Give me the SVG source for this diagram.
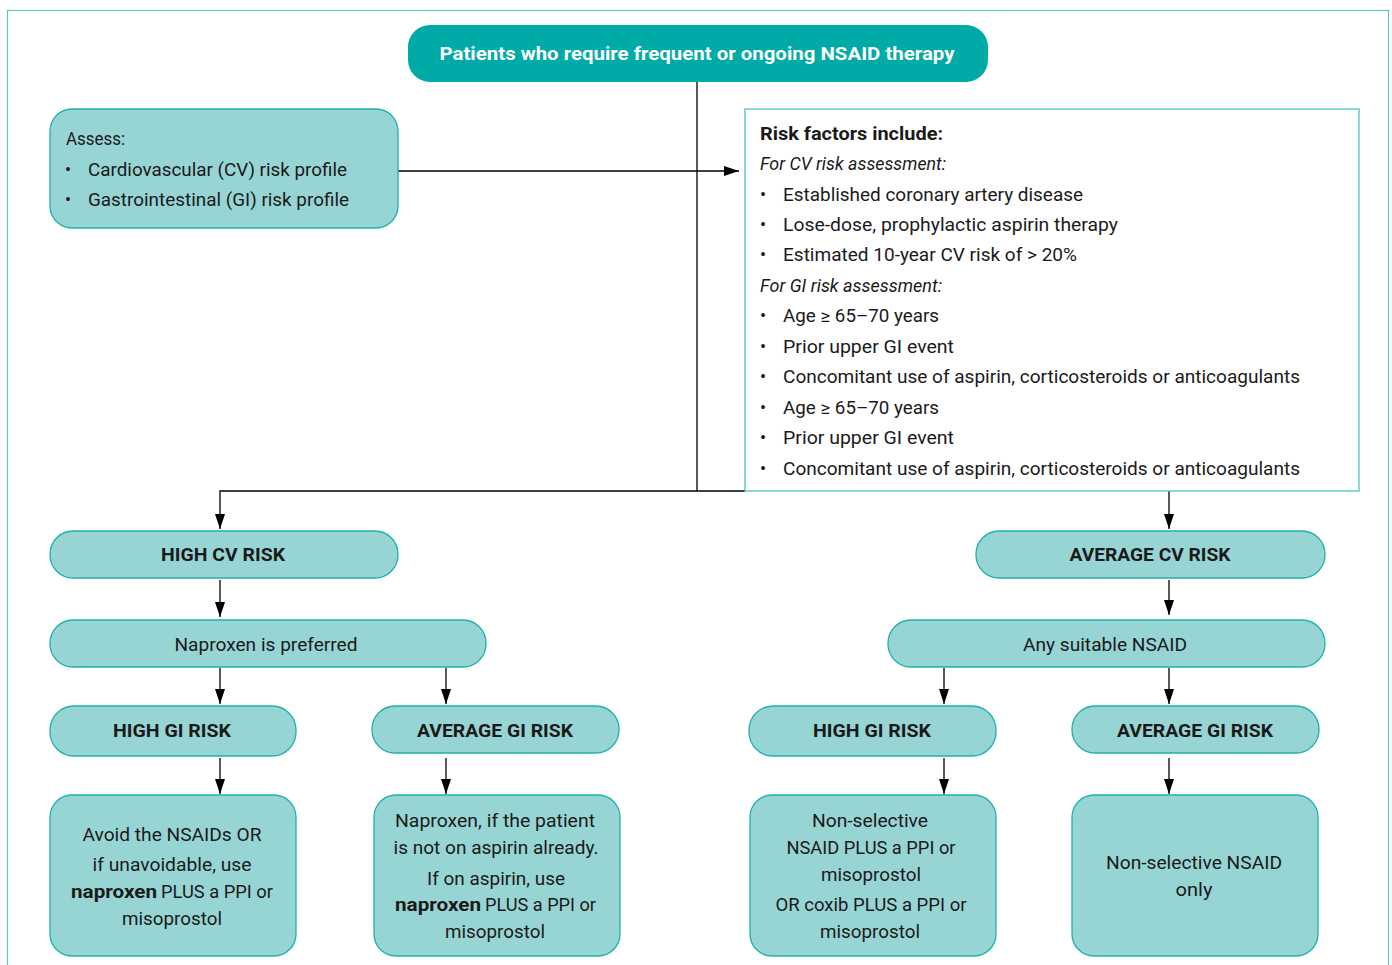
<svg xmlns="http://www.w3.org/2000/svg" width="1392" height="965" viewBox="0 0 1392 965">
<defs>
<style>
text{font-family:Roboto,"Noto Sans","Liberation Sans",sans-serif;font-size:18px;fill:#1a1a1a}
.b{font-weight:bold}
.i{font-style:italic}
.w{fill:#ffffff;font-weight:bold}
.m{text-anchor:middle}
.node{fill:#97d5d5;stroke:#1fb1ac;stroke-width:1.3}
.top{fill:#00aaa6}
.conn{fill:none;stroke:#000;stroke-width:1.3}
</style>
<marker id="ah" viewBox="0 0 15 10" refX="15" refY="5" markerWidth="15" markerHeight="10" orient="auto" markerUnits="userSpaceOnUse">
<path d="M0,0 L15,5 L0,10 z" fill="#000"/>
</marker>
</defs>
<rect x="7.5" y="10.5" width="1381" height="1000" fill="#fff" stroke="#5cc6c3" stroke-width="1.2"/>

<g id="connectors">
<path class="conn" d="M697,82 V491"/>
<path class="conn" d="M398,171 H739" marker-end="url(#ah)"/>
<path class="conn" d="M745,491 H220 V529" marker-end="url(#ah)"/>
<path class="conn" d="M1169,491 V529" marker-end="url(#ah)"/>
<path class="conn" d="M220,580 V617" marker-end="url(#ah)"/>
<path class="conn" d="M220,668 V704" marker-end="url(#ah)"/>
<path class="conn" d="M446,668 V704" marker-end="url(#ah)"/>
<path class="conn" d="M220,758 V794" marker-end="url(#ah)"/>
<path class="conn" d="M446,758 V794" marker-end="url(#ah)"/>
<path class="conn" d="M1169,580 V615" marker-end="url(#ah)"/>
<path class="conn" d="M944,668 V704" marker-end="url(#ah)"/>
<path class="conn" d="M1169,668 V704" marker-end="url(#ah)"/>
<path class="conn" d="M944,758 V794" marker-end="url(#ah)"/>
<path class="conn" d="M1169,758 V794" marker-end="url(#ah)"/>
</g>

<g id="start">
<rect class="top" x="408" y="25" width="580" height="57" rx="22"/>
<text class="w m" x="697" y="60" font-size="19" textLength="515" lengthAdjust="spacingAndGlyphs">Patients who require frequent or ongoing NSAID therapy</text>
</g>

<g id="assess">
<rect class="node" x="50" y="109" width="348" height="119" rx="22"/>
<text x="66" y="145" textLength="59" lengthAdjust="spacingAndGlyphs">Assess:</text>
<text x="65" y="176">•</text>
<text x="88" y="176" textLength="259" lengthAdjust="spacingAndGlyphs">Cardiovascular (CV) risk profile</text>
<text x="65" y="206">•</text>
<text x="88" y="206" textLength="261" lengthAdjust="spacingAndGlyphs">Gastrointestinal (GI) risk profile</text>
</g>

<g id="risk-factors">
<rect x="745" y="109" width="614" height="382" fill="#fff" stroke="#4dc3c0" stroke-width="1.3"/>
<text class="b" x="760" y="140" textLength="183" lengthAdjust="spacingAndGlyphs">Risk factors include:</text>
<text class="i" x="760" y="170" textLength="186" lengthAdjust="spacingAndGlyphs">For CV risk assessment:</text>
<text x="760" y="201">•</text>
<text x="783" y="201" textLength="300" lengthAdjust="spacingAndGlyphs">Established coronary artery disease</text>
<text x="760" y="231">•</text>
<text x="783" y="231" textLength="335" lengthAdjust="spacingAndGlyphs">Lose-dose, prophylactic aspirin therapy</text>
<text x="760" y="261">•</text>
<text x="783" y="261" textLength="294" lengthAdjust="spacingAndGlyphs">Estimated 10-year CV risk of &gt; 20%</text>
<text class="i" x="760" y="292" textLength="182" lengthAdjust="spacingAndGlyphs">For GI risk assessment:</text>
<text x="760" y="322">•</text>
<text x="783" y="322" textLength="156" lengthAdjust="spacingAndGlyphs">Age ≥ 65–70 years</text>
<text x="760" y="353">•</text>
<text x="783" y="353" textLength="171" lengthAdjust="spacingAndGlyphs">Prior upper GI event</text>
<text x="760" y="383">•</text>
<text x="783" y="383" textLength="517" lengthAdjust="spacingAndGlyphs">Concomitant use of aspirin, corticosteroids or anticoagulants</text>
<text x="760" y="414">•</text>
<text x="783" y="414" textLength="156" lengthAdjust="spacingAndGlyphs">Age ≥ 65–70 years</text>
<text x="760" y="444">•</text>
<text x="783" y="444" textLength="171" lengthAdjust="spacingAndGlyphs">Prior upper GI event</text>
<text x="760" y="475">•</text>
<text x="783" y="475" textLength="517" lengthAdjust="spacingAndGlyphs">Concomitant use of aspirin, corticosteroids or anticoagulants</text>
</g>

<g id="high-cv">
<rect class="node" x="50" y="531" width="348" height="47" rx="23"/>
<text class="b m" x="223" y="561" textLength="124" lengthAdjust="spacingAndGlyphs">HIGH CV RISK</text>
</g>

<g id="naproxen-preferred">
<rect class="node" x="50" y="620" width="436" height="47" rx="23"/>
<text class="m" x="266" y="651" textLength="183" lengthAdjust="spacingAndGlyphs">Naproxen is preferred</text>
</g>

<g id="high-gi-left">
<rect class="node" x="50" y="706" width="246" height="50" rx="24"/>
<text class="b m" x="172" y="737" textLength="118" lengthAdjust="spacingAndGlyphs">HIGH GI RISK</text>
</g>

<g id="avg-gi-left">
<rect class="node" x="372" y="706" width="247" height="47" rx="23"/>
<text class="b m" x="495" y="737" textLength="156" lengthAdjust="spacingAndGlyphs">AVERAGE GI RISK</text>
</g>

<g id="outcome-1">
<rect class="node" x="50" y="795" width="246" height="161" rx="22"/>
<text class="m" x="172" y="841" textLength="179" lengthAdjust="spacingAndGlyphs">Avoid the NSAIDs OR</text>
<text class="m" x="172" y="871" textLength="159" lengthAdjust="spacingAndGlyphs">if unavoidable, use</text>
<text class="b" x="71" y="898" textLength="86" lengthAdjust="spacingAndGlyphs">naproxen</text>
<text x="161" y="898" textLength="112" lengthAdjust="spacingAndGlyphs">PLUS a PPI or</text>
<text class="m" x="172" y="925" textLength="100" lengthAdjust="spacingAndGlyphs">misoprostol</text>
</g>

<g id="outcome-2">
<rect class="node" x="374" y="795" width="246" height="161" rx="22"/>
<text class="m" x="495" y="827" textLength="200" lengthAdjust="spacingAndGlyphs">Naproxen, if the patient</text>
<text class="m" x="496" y="854" textLength="205" lengthAdjust="spacingAndGlyphs">is not on aspirin already.</text>
<text class="m" x="496" y="885" textLength="138" lengthAdjust="spacingAndGlyphs">If on aspirin, use</text>
<text class="b" x="395" y="911" textLength="86" lengthAdjust="spacingAndGlyphs">naproxen</text>
<text x="485" y="911" textLength="111" lengthAdjust="spacingAndGlyphs">PLUS a PPI or</text>
<text class="m" x="495" y="938" textLength="100" lengthAdjust="spacingAndGlyphs">misoprostol</text>
</g>

<g id="avg-cv">
<rect class="node" x="976" y="531" width="349" height="47" rx="23"/>
<text class="b m" x="1150" y="561" textLength="161" lengthAdjust="spacingAndGlyphs">AVERAGE CV RISK</text>
</g>

<g id="any-nsaid">
<rect class="node" x="888" y="620" width="437" height="47" rx="23"/>
<text class="m" x="1105" y="651" textLength="164" lengthAdjust="spacingAndGlyphs">Any suitable NSAID</text>
</g>

<g id="high-gi-right">
<rect class="node" x="749" y="706" width="247" height="50" rx="24"/>
<text class="b m" x="872" y="737" textLength="118" lengthAdjust="spacingAndGlyphs">HIGH GI RISK</text>
</g>

<g id="avg-gi-right">
<rect class="node" x="1072" y="706" width="247" height="47" rx="23"/>
<text class="b m" x="1195" y="737" textLength="156" lengthAdjust="spacingAndGlyphs">AVERAGE GI RISK</text>
</g>

<g id="outcome-3">
<rect class="node" x="750" y="795" width="246" height="161" rx="22"/>
<text class="m" x="870" y="827" textLength="116" lengthAdjust="spacingAndGlyphs">Non-selective</text>
<text class="m" x="871" y="854" textLength="169" lengthAdjust="spacingAndGlyphs">NSAID PLUS a PPI or</text>
<text class="m" x="871" y="881" textLength="100" lengthAdjust="spacingAndGlyphs">misoprostol</text>
<text class="m" x="871" y="911" textLength="191" lengthAdjust="spacingAndGlyphs">OR coxib PLUS a PPI or</text>
<text class="m" x="870" y="938" textLength="100" lengthAdjust="spacingAndGlyphs">misoprostol</text>
</g>

<g id="outcome-4">
<rect class="node" x="1072" y="795" width="246" height="161" rx="22"/>
<text class="m" x="1194" y="869" textLength="176" lengthAdjust="spacingAndGlyphs">Non-selective NSAID</text>
<text class="m" x="1194" y="896" textLength="37" lengthAdjust="spacingAndGlyphs">only</text>
</g>
</svg>
